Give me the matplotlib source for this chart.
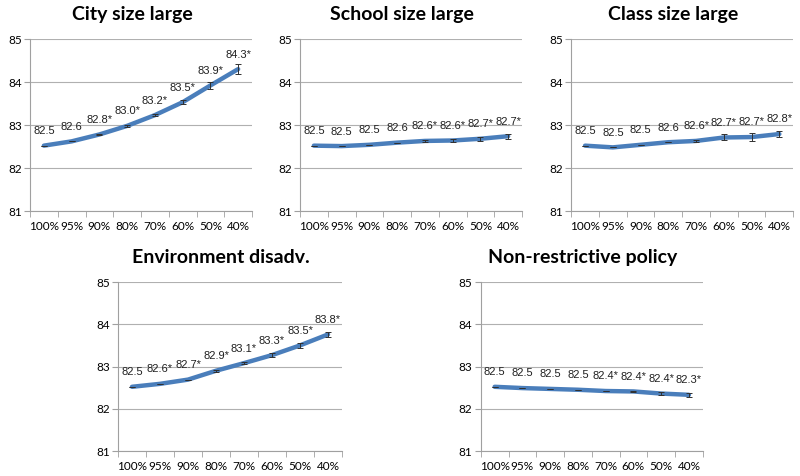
import matplotlib
matplotlib.use('Agg')
import matplotlib.pyplot as plt
import numpy as np

cats = ['100%', '95%', '90%', '80%', '70%', '60%', '50%', '40%']

titles = ['City size large', 'School size large', 'Class size large',
          'Environment disadv.', 'Non-restrictive policy']

city = [82.52, 82.62, 82.78, 82.98, 83.23, 83.53, 83.92, 84.30]
city_err = [0.0, 0.0, 0.02, 0.02, 0.03, 0.05, 0.08, 0.11]
city_lbl = ['82.5', '82.6', '82.8*', '83.0*', '83.2*', '83.5*', '83.9*', '84.3*']

school = [82.52, 82.51, 82.54, 82.59, 82.63, 82.64, 82.68, 82.74]
school_err = [0.0, 0.0, 0.0, 0.0, 0.02, 0.04, 0.05, 0.06]
school_lbl = ['82.5', '82.5', '82.5', '82.6', '82.6*', '82.6*', '82.7*', '82.7*']

klass = [82.52, 82.48, 82.54, 82.60, 82.63, 82.71, 82.72, 82.79]
klass_err = [0.0, 0.0, 0.0, 0.0, 0.02, 0.07, 0.09, 0.07]
klass_lbl = ['82.5', '82.5', '82.5', '82.6', '82.6*', '82.7*', '82.7*', '82.8*']

env = [82.52, 82.59, 82.69, 82.90, 83.08, 83.27, 83.50, 83.76]
env_err = [0.0, 0.0, 0.0, 0.02, 0.03, 0.04, 0.05, 0.06]
env_lbl = ['82.5', '82.6*', '82.7*', '82.9*', '83.1*', '83.3*', '83.5*', '83.8*']

nonres = [82.52, 82.49, 82.47, 82.45, 82.42, 82.41, 82.36, 82.33]
nonres_err = [0.0, 0.0, 0.0, 0.0, 0.01, 0.02, 0.03, 0.04]
nonres_lbl = ['82.5', '82.5', '82.5', '82.5', '82.4*', '82.4*', '82.4*', '82.3*']

series = [(city, city_err, city_lbl), (school, school_err, school_lbl),
          (klass, klass_err, klass_lbl), (env, env_err, env_lbl),
          (nonres, nonres_err, nonres_lbl)]

# axes boxes in figure fractions
boxes = [[0.0375, 0.5567, 0.2775, 0.3613],
         [0.375, 0.5567, 0.2775, 0.3613],
         [0.714, 0.5567, 0.2775, 0.3613],
         [0.1475, 0.0525, 0.28, 0.355],
         [0.601, 0.0525, 0.2775, 0.355]]

fig = plt.figure(figsize=(8, 4.76), dpi=100)
x = np.arange(len(cats))

for box, title, (vals, err, lbl) in zip(boxes, titles, series):
    ax = fig.add_axes(box)
    ax.set_xlim(-0.5, 7.5)
    ax.set_ylim(81, 85)
    ax.set_yticks([81, 82, 83, 84, 85])
    ax.yaxis.grid(True, color='#B0B0B0', linewidth=0.8)
    ax.set_axisbelow(True)
    ax.plot(x, vals, color='#4A7EBB', linewidth=3.2, solid_capstyle='round',
            solid_joinstyle='round', zorder=3)
    ax.errorbar(x, vals, yerr=err, fmt='none', ecolor='#303030',
                elinewidth=0.7, capsize=2, capthick=0.7, zorder=4)
    for xi, v, t in zip(x, vals, lbl):
        ax.annotate(t, (xi, v), xytext=(0, 10.5), textcoords='offset points',
                    ha='center', va='center', fontsize=8,
                    family='Liberation Sans', color='#202020')
    ax.set_xticks(x)
    ax.set_xticklabels(cats, family='Lato', fontsize=8.5)
    ax.set_xticks(np.arange(-0.5, 8, 1), minor=True)
    ax.tick_params(axis='x', which='major', length=0, pad=7)
    ax.tick_params(axis='x', which='minor', length=4, color='#A0A0A0')
    ax.tick_params(axis='y', length=4, color='#A0A0A0', labelsize=8.5, pad=2)
    for tl in ax.get_yticklabels():
        tl.set_family('Lato')
    ax.spines['top'].set_visible(False)
    ax.spines['right'].set_visible(False)
    ax.spines['left'].set_color('#A0A0A0')
    ax.spines['bottom'].set_color('#A0A0A0')
    ax.text(0.46, 1.145, title, transform=ax.transAxes, ha='center',
            va='center', fontsize=14, fontweight='bold', family='Lato')

fig.savefig('out.png', dpi=100)
